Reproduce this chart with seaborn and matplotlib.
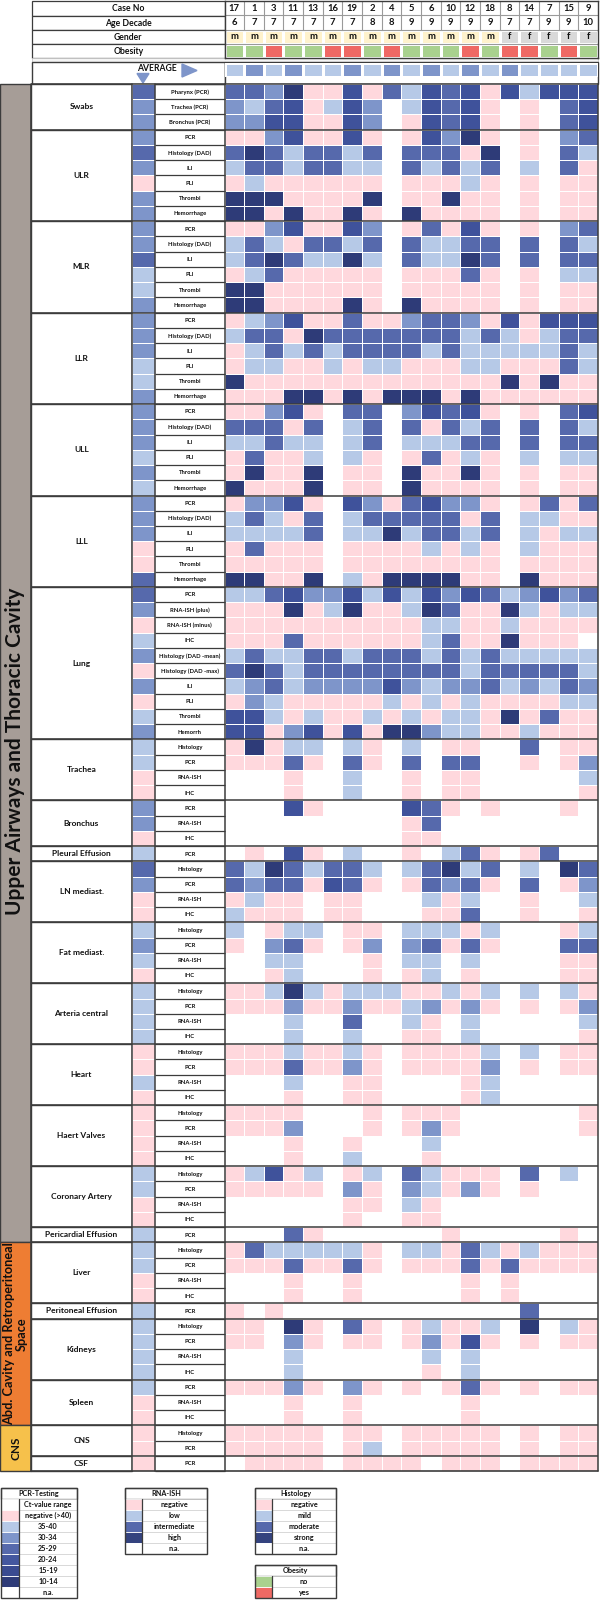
import numpy as np
import matplotlib
matplotlib.use("Agg")
import matplotlib.pyplot as plt
from matplotlib.colors import ListedColormap
from matplotlib.patches import Rectangle, Polygon
import seaborn as sns

sns.set_theme(style="white")
plt.rcParams['font.family'] = ['Lato', 'DejaVu Sans']

# ---------------- data ----------------
case_no = [17, 1, 3, 11, 13, 16, 19, 2, 4, 5, 6, 10, 12, 18, 8, 14, 7, 15, 9]
age_decade = [6, 7, 7, 7, 7, 7, 7, 8, 8, 9, 9, 9, 9, 9, 7, 7, 9, 9, 10]
gender = ['m'] * 14 + ['f'] * 5
obesity = ['no', 'no', 'yes', 'no', 'no', 'yes', 'yes', 'no', 'yes', 'no',
           'no', 'no', 'yes', 'no', 'yes', 'yes', 'no', 'yes', 'no']
# level codes: 0 n.a., 1 negative, 2 35-40/low/mild, 3 30-34, 4 25-29/intermediate/moderate,
#              5 20-24, 6 10-14/high/strong
average_top = [2, 3, 2, 3, 2, 2, 3, 2, 3, 2, 3, 2, 3, 2, 3, 2, 2, 2, 2]

swabs_rows = ["Pharynx (PCR)", "Trachea (PCR)", "Bronchus (PCR)"]
swabs = [[4, 4, 3, 6, 1, 1, 5, 1, 4, 2, 5, 4, 5, 1, 5, 2, 5, 5, 5],
         [3, 2, 4, 5, 1, 2, 5, 3, 0, 2, 5, 4, 5, 1, 0, 1, 0, 4, 5],
         [3, 3, 5, 5, 1, 1, 5, 3, 0, 1, 5, 4, 5, 1, 0, 1, 0, 4, 5]]
swabs_avg = [4, 3, 3]

lobe_rows = ["PCR", "Histology (DAD)", "ILI", "PLI", "Thrombi", "Hemorrhage"]
ulr = [[1, 1, 3, 5, 1, 1, 5, 1, 0, 1, 5, 3, 6, 1, 0, 1, 0, 3, 4],
       [4, 6, 4, 2, 4, 4, 2, 4, 0, 4, 4, 4, 1, 6, 0, 1, 0, 4, 2],
       [2, 4, 4, 2, 4, 4, 2, 2, 0, 4, 2, 4, 2, 4, 0, 2, 0, 4, 1],
       [1, 2, 1, 1, 1, 1, 1, 1, 0, 1, 1, 1, 2, 1, 0, 1, 0, 1, 1],
       [6, 6, 6, 1, 1, 1, 1, 6, 0, 1, 1, 6, 1, 1, 0, 1, 0, 1, 1],
       [6, 6, 1, 6, 1, 1, 6, 1, 0, 6, 1, 1, 1, 1, 0, 1, 0, 1, 1]]
ulr_avg = [3, 4, 3, 1, 3, 3]
mlr = [[1, 1, 3, 5, 1, 1, 5, 3, 0, 1, 4, 1, 5, 1, 0, 1, 0, 3, 4],
       [2, 4, 2, 1, 4, 4, 2, 4, 0, 4, 2, 2, 4, 4, 0, 4, 0, 4, 2],
       [2, 4, 6, 4, 2, 2, 6, 2, 0, 4, 2, 2, 6, 4, 0, 4, 0, 4, 4],
       [1, 2, 4, 1, 1, 1, 1, 1, 0, 1, 1, 1, 4, 1, 0, 1, 0, 2, 2],
       [6, 6, 1, 1, 1, 1, 1, 1, 0, 1, 1, 1, 1, 1, 0, 1, 0, 1, 1],
       [6, 6, 1, 1, 1, 1, 6, 1, 0, 6, 1, 1, 1, 1, 0, 1, 0, 1, 1]]
mlr_avg = [3, 3, 4, 2, 2, 3]
llr = [[1, 2, 3, 5, 1, 1, 4, 1, 1, 3, 4, 4, 3, 1, 5, 1, 5, 5, 5],
       [2, 4, 4, 1, 6, 4, 4, 4, 4, 4, 4, 4, 2, 4, 2, 1, 2, 4, 4],
       [1, 2, 4, 2, 4, 2, 4, 4, 4, 4, 2, 4, 2, 2, 2, 2, 2, 4, 2],
       [1, 2, 2, 1, 1, 2, 1, 2, 2, 1, 1, 1, 2, 2, 1, 1, 1, 4, 2],
       [6, 1, 1, 1, 1, 1, 1, 1, 1, 1, 1, 1, 1, 1, 6, 1, 6, 1, 1],
       [1, 1, 1, 6, 6, 1, 6, 1, 6, 6, 6, 1, 6, 1, 1, 1, 1, 1, 1]]
llr_avg = [3, 3, 3, 2, 2, 3]
ull = [[1, 1, 3, 5, 1, 0, 4, 4, 0, 3, 5, 4, 5, 1, 0, 1, 0, 4, 5],
       [4, 4, 4, 1, 4, 0, 2, 4, 0, 4, 1, 4, 2, 4, 0, 4, 0, 4, 2],
       [2, 2, 4, 2, 2, 0, 2, 4, 0, 2, 2, 2, 4, 4, 0, 4, 0, 4, 4],
       [1, 4, 1, 1, 2, 0, 2, 1, 0, 1, 4, 1, 2, 1, 0, 2, 0, 2, 2],
       [1, 6, 1, 1, 6, 0, 1, 1, 0, 6, 1, 1, 6, 1, 0, 1, 0, 1, 1],
       [6, 1, 1, 1, 6, 0, 1, 1, 0, 6, 1, 1, 1, 1, 0, 1, 0, 1, 1]]
ull_avg = [3, 3, 3, 2, 3, 2]
lll = [[1, 3, 3, 5, 1, 0, 5, 3, 1, 4, 5, 3, 3, 1, 0, 1, 4, 1, 4],
       [2, 4, 2, 1, 4, 0, 2, 4, 4, 4, 4, 4, 1, 4, 0, 2, 2, 1, 1],
       [2, 2, 2, 2, 4, 0, 2, 2, 6, 2, 4, 4, 2, 4, 0, 2, 1, 2, 2],
       [1, 4, 1, 1, 1, 0, 1, 1, 1, 1, 2, 1, 2, 1, 0, 2, 1, 1, 1],
       [1, 1, 1, 1, 1, 0, 1, 1, 1, 1, 1, 1, 1, 1, 0, 1, 1, 1, 1],
       [6, 6, 1, 1, 6, 0, 2, 1, 6, 6, 6, 6, 1, 1, 0, 6, 1, 1, 1]]
lll_avg = [3, 3, 3, 1, 1, 4]

lung_rows = ["PCR", "RNA-ISH (plus)", "RNA-ISH (minus)", "IHC", "Histology (DAD -mean)",
             "Histology (DAD -max)", "ILI", "PLI", "Thrombi", "Hemorrh"]
lung = [[2, 2, 4, 5, 3, 3, 5, 2, 5, 2, 5, 3, 5, 4, 2, 3, 5, 3, 4],
        [1, 1, 1, 6, 1, 2, 6, 1, 1, 2, 6, 4, 1, 1, 6, 2, 1, 2, 2],
        [1, 1, 1, 1, 1, 1, 1, 1, 1, 1, 2, 2, 1, 1, 2, 1, 1, 1, 1],
        [1, 1, 1, 4, 1, 1, 1, 1, 1, 1, 2, 4, 1, 1, 6, 1, 1, 1, 0],
        [2, 4, 2, 2, 4, 4, 2, 4, 4, 4, 2, 4, 2, 4, 2, 2, 2, 2, 2],
        [4, 6, 4, 2, 4, 4, 4, 4, 4, 4, 4, 4, 2, 4, 4, 4, 4, 4, 2],
        [2, 3, 4, 2, 3, 3, 3, 3, 5, 3, 2, 3, 3, 4, 2, 3, 2, 4, 3],
        [1, 3, 2, 1, 1, 1, 1, 1, 2, 1, 2, 1, 2, 1, 1, 1, 1, 2, 2],
        [5, 5, 2, 1, 2, 1, 1, 2, 1, 2, 1, 2, 2, 1, 6, 1, 4, 1, 1],
        [5, 5, 1, 3, 5, 1, 5, 1, 6, 6, 3, 2, 2, 1, 1, 2, 1, 1, 1]]
lung_avg = [4, 3, 1, 2, 3, 1, 3, 1, 2, 3]

tissue_rows = ["Histology", "PCR", "RNA-ISH", "IHC"]
trachea = [[1, 6, 1, 2, 2, 0, 2, 1, 0, 2, 0, 1, 1, 0, 0, 4, 0, 1, 1],
           [1, 1, 1, 4, 1, 0, 4, 1, 0, 4, 0, 4, 4, 0, 0, 1, 0, 1, 3],
           [0, 0, 0, 1, 0, 0, 2, 0, 0, 1, 0, 1, 1, 0, 0, 0, 0, 0, 2],
           [0, 0, 0, 1, 0, 0, 2, 0, 0, 1, 0, 1, 1, 0, 0, 0, 0, 0, 1]]
trachea_avg = [2, 2, 1, 1]
bronchus_rows = ["PCR", "RNA-ISH", "IHC"]
bronchus = [[0, 0, 0, 5, 1, 0, 0, 0, 0, 5, 4, 1, 0, 1, 0, 0, 0, 1, 0],
            [0, 0, 0, 0, 0, 0, 0, 0, 0, 1, 4, 0, 0, 0, 0, 0, 0, 0, 0],
            [0, 0, 0, 0, 0, 0, 0, 0, 0, 1, 1, 0, 0, 0, 0, 0, 0, 0, 0]]
bronchus_avg = [3, 3, 1]
pleural = [[0, 1, 0, 5, 1, 0, 2, 0, 0, 1, 0, 2, 4, 1, 0, 1, 4, 0, 0]]
pleural_avg = [2]
ln_mediast = [[4, 2, 6, 4, 2, 4, 4, 2, 0, 2, 4, 6, 2, 4, 0, 2, 0, 6, 4],
              [4, 3, 4, 4, 1, 5, 4, 1, 0, 1, 4, 3, 4, 1, 0, 4, 0, 1, 3],
              [1, 2, 1, 1, 0, 1, 1, 0, 0, 0, 2, 1, 2, 0, 0, 1, 0, 0, 2],
              [2, 1, 1, 1, 0, 1, 1, 0, 0, 0, 1, 1, 4, 0, 0, 1, 0, 0, 1]]
ln_avg = [4, 3, 1, 1]
fat_mediast = [[2, 0, 1, 2, 2, 0, 1, 1, 0, 2, 2, 2, 1, 2, 0, 0, 0, 1, 2],
               [1, 0, 3, 4, 1, 0, 1, 3, 0, 3, 4, 1, 4, 1, 0, 0, 0, 4, 4],
               [0, 0, 2, 2, 0, 0, 0, 1, 0, 2, 2, 0, 2, 0, 0, 0, 0, 1, 1],
               [0, 0, 1, 2, 0, 0, 0, 1, 0, 1, 2, 0, 1, 0, 0, 0, 0, 1, 1]]
fat_avg = [2, 3, 2, 1]
arteria = [[1, 1, 2, 6, 2, 1, 2, 2, 2, 1, 1, 2, 1, 2, 0, 2, 0, 2, 1],
           [1, 1, 1, 3, 1, 1, 3, 1, 1, 2, 3, 1, 3, 1, 0, 1, 0, 1, 3],
           [0, 0, 0, 2, 0, 0, 4, 0, 0, 2, 1, 0, 2, 0, 0, 0, 0, 0, 2],
           [0, 0, 0, 2, 0, 0, 2, 0, 0, 1, 1, 0, 2, 0, 0, 0, 0, 0, 1]]
arteria_avg = [2, 2, 2, 2]
heart = [[1, 1, 1, 2, 1, 1, 2, 1, 0, 1, 1, 1, 1, 2, 0, 2, 0, 1, 1],
         [1, 1, 1, 4, 1, 1, 3, 1, 0, 1, 1, 1, 1, 3, 0, 1, 0, 1, 1],
         [0, 0, 0, 2, 0, 0, 1, 1, 0, 0, 0, 0, 1, 2, 0, 0, 0, 0, 0],
         [0, 0, 0, 1, 0, 0, 1, 1, 0, 0, 0, 0, 1, 2, 0, 0, 0, 0, 0]]
heart_avg = [1, 1, 2, 1]
valves = [[1, 1, 1, 1, 0, 0, 0, 1, 0, 1, 1, 1, 0, 0, 0, 0, 0, 0, 1],
          [1, 1, 1, 3, 0, 0, 0, 1, 0, 1, 3, 1, 0, 0, 0, 0, 0, 0, 1],
          [0, 0, 0, 1, 0, 0, 1, 0, 0, 0, 2, 0, 0, 0, 0, 0, 0, 0, 0],
          [0, 0, 0, 1, 0, 0, 2, 0, 0, 0, 1, 0, 0, 0, 0, 0, 0, 0, 0]]
valves_avg = [1, 1, 1, 1]
coronary = [[1, 2, 5, 1, 2, 0, 1, 2, 0, 4, 2, 1, 1, 1, 0, 4, 0, 2, 0],
            [1, 1, 1, 1, 1, 0, 3, 1, 0, 3, 2, 1, 3, 1, 0, 1, 0, 0, 0],
            [0, 0, 0, 0, 0, 0, 1, 1, 0, 2, 1, 0, 0, 0, 0, 0, 0, 0, 0],
            [0, 0, 0, 0, 0, 0, 1, 0, 0, 1, 1, 0, 0, 0, 0, 0, 0, 0, 0]]
coronary_avg = [2, 2, 1, 1]
pericardial = [[0, 0, 0, 4, 1, 0, 0, 0, 0, 0, 0, 1, 0, 0, 0, 0, 0, 1, 0]]
pericardial_avg = [2]
liver = [[1, 4, 2, 2, 2, 2, 2, 1, 0, 2, 2, 1, 4, 2, 1, 2, 1, 1, 1],
         [1, 1, 1, 4, 1, 1, 4, 1, 0, 1, 1, 1, 4, 1, 4, 1, 1, 1, 1],
         [0, 0, 0, 1, 0, 0, 1, 0, 0, 0, 0, 0, 1, 0, 1, 0, 0, 0, 0],
         [0, 0, 0, 1, 0, 0, 1, 0, 0, 0, 0, 0, 1, 0, 1, 0, 0, 0, 0]]
liver_avg = [2, 2, 1, 1]
peritoneal = [[1, 0, 1, 0, 0, 0, 0, 0, 0, 0, 0, 0, 0, 0, 0, 4, 0, 0, 0]]
peritoneal_avg = [2]
kidneys = [[1, 1, 0, 6, 1, 0, 4, 1, 0, 1, 2, 1, 1, 2, 0, 6, 0, 2, 1],
           [1, 1, 0, 3, 1, 0, 1, 1, 0, 1, 3, 1, 5, 1, 0, 1, 0, 1, 1],
           [0, 0, 0, 2, 0, 0, 0, 0, 0, 0, 2, 0, 2, 0, 0, 0, 0, 0, 0],
           [0, 0, 0, 2, 0, 0, 0, 0, 0, 0, 1, 0, 2, 0, 0, 0, 0, 0, 0]]
kidneys_avg = [2, 2, 2, 2]
spleen_rows = ["PCR", "RNA-ISH", "IHC"]
spleen = [[1, 1, 1, 3, 1, 0, 3, 1, 0, 1, 0, 1, 4, 1, 0, 1, 0, 1, 1],
          [0, 0, 0, 1, 0, 0, 1, 0, 0, 0, 0, 0, 1, 0, 0, 0, 0, 0, 0],
          [0, 0, 0, 1, 0, 0, 1, 0, 0, 0, 0, 0, 1, 0, 0, 0, 0, 0, 0]]
spleen_avg = [2, 1, 1]
cns_rows = ["Histology", "PCR"]
cns = [[1, 1, 1, 1, 1, 0, 1, 1, 0, 1, 1, 1, 1, 1, 0, 1, 0, 1, 1],
       [1, 1, 1, 1, 1, 0, 1, 2, 0, 1, 1, 1, 1, 1, 0, 1, 0, 1, 1]]
cns_avg = [1, 1]
csf = [[0, 1, 1, 1, 1, 0, 1, 1, 1, 1, 0, 1, 1, 1, 0, 1, 1, 1, 1]]
csf_avg = [1]

upper_sections = [("Swabs", swabs_rows, swabs, swabs_avg),
                  ("ULR", lobe_rows, ulr, ulr_avg),
                  ("MLR", lobe_rows, mlr, mlr_avg),
                  ("LLR", lobe_rows, llr, llr_avg),
                  ("ULL", lobe_rows, ull, ull_avg),
                  ("LLL", lobe_rows, lll, lll_avg),
                  ("Lung", lung_rows, lung, lung_avg),
                  ("Trachea", tissue_rows, trachea, trachea_avg),
                  ("Bronchus", bronchus_rows, bronchus, bronchus_avg),
                  ("Pleural Effusion", ["PCR"], pleural, pleural_avg),
                  ("LN mediast.", tissue_rows, ln_mediast, ln_avg),
                  ("Fat mediast.", tissue_rows, fat_mediast, fat_avg),
                  ("Arteria central", tissue_rows, arteria, arteria_avg),
                  ("Heart", tissue_rows, heart, heart_avg),
                  ("Haert Valves", tissue_rows, valves, valves_avg),
                  ("Coronary Artery", tissue_rows, coronary, coronary_avg),
                  ("Pericardial Effusion", ["PCR"], pericardial, pericardial_avg)]
abd_sections = [("Liver", tissue_rows, liver, liver_avg),
                ("Peritoneal Effusion", ["PCR"], peritoneal, peritoneal_avg),
                ("Kidneys", tissue_rows, kidneys, kidneys_avg),
                ("Spleen", spleen_rows, spleen, spleen_avg)]
cns_sections = [("CNS", cns_rows, cns, cns_avg),
                ("CSF", ["PCR"], csf, csf_avg)]
categories = [("Upper Airways and Thoracic Cavity", "#a69d97", upper_sections),
              ("Abd. Cavity and Retroperitoneal\nSpace", "#ee7d33", abd_sections),
              ("CNS", "#f6c14b", cns_sections)]

# ---------------- styling ----------------
level_colors = ['#ffffff', '#ffd8dd', '#b6c9e7', '#7e95ca', '#5669ac', '#3f529b', '#2e3b78']
cmap = ListedColormap(level_colors)
hdr_colors = ['#ffffff', '#fff2cc', '#d9d9d9', '#a9d18e', '#ef6964']
hdr_cmap = ListedColormap(hdr_colors)
EDGE = '#3c3c3c'

W, H = 600, 1600
X_BAND0, X_BAND1 = 0, 31
X_GRP1 = 132
X_AVG1 = 155
X_LAB1 = 224.5
X_D0, X_D1 = 224.5, 598
Y0, Y1 = 84, 1471

fig = plt.figure(figsize=(6, 16), dpi=100)


def rect_of(x0, y0, x1, y1):
    return [x0 / W, 1 - y1 / H, (x1 - x0) / W, (y1 - y0) / H]


bg = fig.add_axes([0, 0, 1, 1])
bg.set_xlim(0, W)
bg.set_ylim(H, 0)
bg.axis('off')

# assemble matrix
row_labels, data_rows, avg_rows = [], [], []
group_bounds = []
cat_bounds = []
for cname, ccol, secs in categories:
    cstart = len(data_rows)
    for gname, rlabs, gdata, gavg in secs:
        gs = len(data_rows)
        row_labels += rlabs
        data_rows += gdata
        avg_rows += gavg
        group_bounds.append((gname, gs, len(data_rows)))
    cat_bounds.append((cname, ccol, cstart, len(data_rows)))
mat = np.array(data_rows)
avg = np.array(avg_rows).reshape(-1, 1)
n_rows = mat.shape[0]
rh = (Y1 - Y0) / n_rows


def ry(i):
    return Y0 + i * rh


# ---------------- header ----------------
HY = [1, 15.5, 30, 44, 58]
hdr_names = ["Case No", "Age Decade", "Gender", "Obesity"]
hcodes = np.zeros((4, 19))
hcodes[2] = [1 if g == 'm' else 2 for g in gender]
hcodes[3] = [3 if o == 'no' else 4 for o in obesity]
hannot = np.array([[str(v) for v in case_no],
                   [str(v) for v in age_decade],
                   gender,
                   [''] * 19])
axh = fig.add_axes(rect_of(X_D0, HY[0], X_D1, HY[4]))
sns.heatmap(hcodes, ax=axh, cmap=hdr_cmap, vmin=-0.5, vmax=4.5, cbar=False,
            annot=hannot, fmt='', annot_kws=dict(fontsize=6.8, fontweight='bold', color='#111111'),
            linewidths=0.8, linecolor='white', xticklabels=False, yticklabels=False)
axh.vlines(np.arange(1, 19), 0, 2, color='#9a9a9a', lw=0.8)
axh.hlines([1, 2, 3], 0, 19, color='#9a9a9a', lw=0.8)
for sp in axh.spines.values():
    sp.set_visible(True)
    sp.set_color(EDGE)
    sp.set_linewidth(1.0)
for k, nm in enumerate(hdr_names):
    bg.add_patch(Rectangle((32, HY[k]), X_D0 - 32, HY[k + 1] - HY[k], facecolor='white',
                           edgecolor=EDGE, lw=0.9))
    bg.text((32 + X_D0) / 2, (HY[k] + HY[k + 1]) / 2 + 0.5, nm, ha='center', va='center',
            fontsize=6.2, fontweight='bold', color='#111111')
bg.add_patch(Rectangle((32, 58), X_D1 - 32, 4, facecolor='#f4f4f4', edgecolor='#c8c8c8', lw=0.6))

# ---------------- average row ----------------
bg.add_patch(Rectangle((32, 62), X_D0 - 32, Y0 - 62, facecolor='white', edgecolor=EDGE, lw=1.0))
bg.add_patch(Rectangle((X_D0, 62), X_D1 - X_D0, Y0 - 62, facecolor='white', edgecolor=EDGE, lw=1.0))
axa = fig.add_axes(rect_of(X_D0, 63, X_D1, 77))
sns.heatmap(np.array(average_top).reshape(1, -1), ax=axa, cmap=cmap, vmin=-0.5, vmax=6.5,
            cbar=False, linewidths=0.8, linecolor='white', xticklabels=False, yticklabels=False)
bg.text(157, 68.5, "AVERAGE", ha='center', va='center', fontsize=6.2, fontweight='bold', color='#111111')
bg.add_patch(Polygon([(137, 73.5), (149, 73.5), (143, 83)], closed=True, color=level_colors[3]))
bg.add_patch(Polygon([(182, 64), (182, 77), (197, 70.5)], closed=True, color=level_colors[3]))

# ---------------- left label blocks ----------------
for cname, ccol, cs, ce in cat_bounds:
    bg.add_patch(Rectangle((X_BAND0, ry(cs)), X_BAND1 - X_BAND0, ry(ce) - ry(cs),
                           facecolor=ccol, edgecolor=EDGE, lw=1.0))
for gname, gs, ge in group_bounds:
    bg.add_patch(Rectangle((X_BAND1, ry(gs)), X_GRP1 - X_BAND1, ry(ge) - ry(gs),
                           facecolor='white', edgecolor=EDGE, lw=1.0))
    bg.text((X_BAND1 + X_GRP1) / 2, (ry(gs) + ry(ge)) / 2, gname, ha='center', va='center',
            fontsize=6.0, fontweight='bold', color='#111111')
for i, lab in enumerate(row_labels):
    bg.text((X_AVG1 + X_LAB1) / 2, ry(i) + rh / 2 + 0.3, lab, ha='center', va='center',
            fontsize=4.2, fontweight='bold', color='#111111')

# category captions
bg.text(15.5, 588, "Upper Airways and Thoracic Cavity", rotation=90, ha='center', va='top',
        fontsize=15, fontweight='bold', color='#111111')
_, _, cs, ce = cat_bounds[1]
bg.text(15.5, (ry(cs) + ry(ce)) / 2, "Abd. Cavity and Retroperitoneal\nSpace", rotation=90,
        ha='center', va='center', fontsize=9.2, fontweight='bold', color='#111111',
        linespacing=1.0, multialignment='center')
_, _, cs, ce = cat_bounds[2]
bg.text(15.5, (ry(cs) + ry(ce)) / 2, "CNS", rotation=90, ha='center', va='center',
        fontsize=8.5, fontweight='bold', color='#111111')

# ---------------- heatmaps ----------------
axv = fig.add_axes(rect_of(X_GRP1, Y0, X_AVG1, Y1))
sns.heatmap(avg, ax=axv, cmap=cmap, vmin=-0.5, vmax=6.5, cbar=False,
            linewidths=0.7, linecolor='white', xticklabels=False, yticklabels=False)
axd = fig.add_axes(rect_of(X_D0, Y0, X_D1, Y1))
sns.heatmap(mat, ax=axd, cmap=cmap, vmin=-0.5, vmax=6.5, cbar=False,
            linewidths=0.7, linecolor='white', xticklabels=False, yticklabels=False)

# ---------------- overlay lines ----------------
ov = fig.add_axes([0, 0, 1, 1])
ov.set_xlim(0, W)
ov.set_ylim(H, 0)
ov.axis('off')
for i in range(n_rows + 1):
    ov.plot([X_AVG1, X_LAB1], [ry(i), ry(i)], color=EDGE, lw=0.9, solid_capstyle='butt')
for gname, gs, ge in group_bounds:
    ov.plot([X_BAND1, X_D1], [ry(gs), ry(gs)], color=EDGE, lw=1.1, solid_capstyle='butt')
ov.plot([X_BAND1, X_D1], [Y1, Y1], color=EDGE, lw=1.2)
for x in [X_BAND1, X_GRP1, X_AVG1, X_D0, X_D1]:
    ov.plot([x, x], [Y0, Y1], color=EDGE, lw=1.1)

# ---------------- legends ----------------
LY, LH = 1488, 11.0


def legend_box(x0, x1, sw, y0, title, entries):
    bg.add_patch(Rectangle((x0, y0), x1 - x0, LH, facecolor='white', edgecolor=EDGE, lw=0.9))
    bg.text((x0 + x1) / 2, y0 + LH / 2 + 0.3, title, ha='center', va='center', fontsize=5.2,
            fontweight='bold', color='#111111')
    for k, (lab, col) in enumerate(entries):
        yy = y0 + LH * (k + 1)
        bg.add_patch(Rectangle((x0, yy), sw, LH, facecolor=col, edgecolor='white', lw=0.6))
        bg.add_patch(Rectangle((x0 + sw, yy), x1 - x0 - sw, LH, facecolor='white',
                               edgecolor='#d0d0d0', lw=0.5))
        bg.text((x0 + sw + x1) / 2, yy + LH / 2 + 0.3, lab, ha='center', va='center',
                fontsize=5.2, fontweight='bold', color='#111111')
    n = len(entries) + 1
    bg.add_patch(Rectangle((x0, y0), x1 - x0, LH * n, facecolor='none', edgecolor=EDGE, lw=1.0))
    bg.plot([x0 + sw, x0 + sw], [y0 + LH, y0 + LH * n], color=EDGE, lw=0.9)


legend_box(1, 77, 18, LY, "PCR-Testing",
           [("Ct-value range", 'white'), ("negative (>40)", level_colors[1]),
            ("35-40", level_colors[2]), ("30-34", level_colors[3]), ("25-29", level_colors[4]),
            ("20-24", '#44579f'), ("15-19", '#3a4b91'), ("10-14", level_colors[6]),
            ("n.a.", 'white')])
legend_box(125, 207, 17, LY, "RNA-ISH",
           [("negative", level_colors[1]), ("low", level_colors[2]),
            ("intermediate", level_colors[4]), ("high", '#34437f'), ("n.a.", 'white')])
legend_box(255, 336, 17, LY, "Histology",
           [("negative", level_colors[1]), ("mild", level_colors[2]),
            ("moderate", level_colors[4]), ("strong", '#34437f'), ("n.a.", 'white')])
legend_box(255, 336, 17, LY + LH * 7, "Obesity",
           [("no", hdr_colors[3]), ("yes", hdr_colors[4])])

fig.savefig("out.png", dpi=100)
